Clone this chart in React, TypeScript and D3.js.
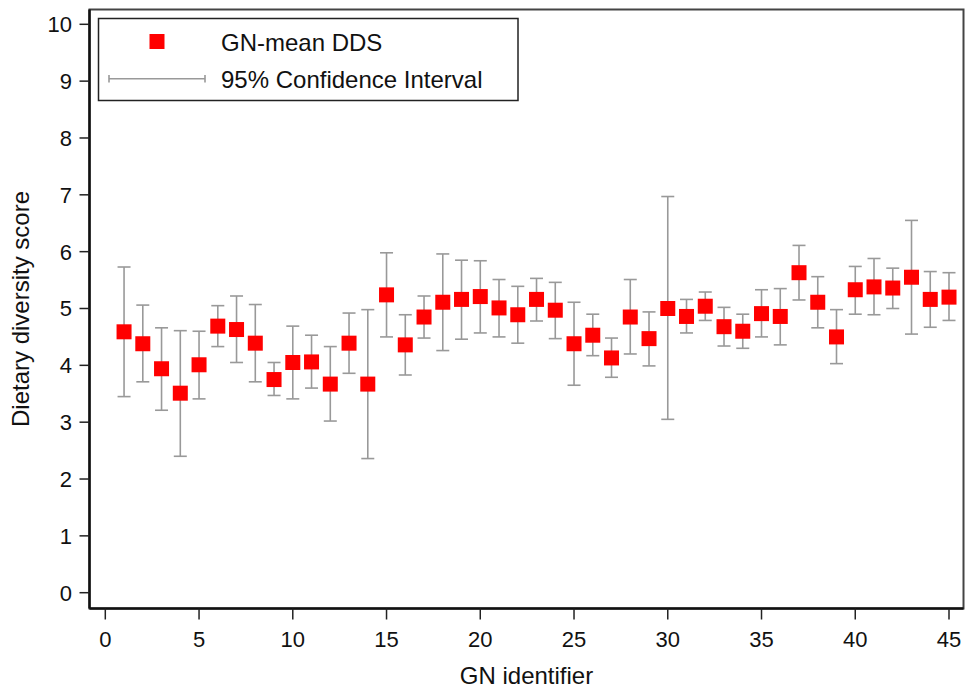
import React from 'react';
import * as d3 from 'd3';

const gnIds = d3.range(1, 46);
const meanDds = [
  4.59, 4.38, 3.94, 3.51, 4.01, 4.69, 4.63, 4.39, 3.75, 4.05,
  4.06, 3.67, 4.39, 3.67, 5.24, 4.36, 4.85, 5.11, 5.16, 5.21,
  5.01, 4.89, 5.16, 4.97, 4.38, 4.53, 4.13, 4.85, 4.47, 5.0,
  4.86, 5.04, 4.68, 4.6, 4.91, 4.86, 5.63, 5.11, 4.5, 5.33,
  5.38, 5.36, 5.55, 5.16, 5.2,
];
const ciLow = [
  3.45, 3.71, 3.21, 2.4, 3.41, 4.33, 4.05, 3.71, 3.47, 3.41,
  3.6, 3.02, 3.86, 2.36, 4.5, 3.83, 4.48, 4.26, 4.46, 4.57,
  4.5, 4.39, 4.78, 4.47, 3.65, 4.17, 3.79, 4.2, 3.99, 3.05,
  4.57, 4.79, 4.34, 4.3, 4.5, 4.36, 5.15, 4.66, 4.03, 4.9,
  4.89, 5.0, 4.55, 4.67, 4.79,
];
const ciHigh = [
  5.73, 5.06, 4.66, 4.61, 4.6, 5.05, 5.22, 5.07, 4.05, 4.69,
  4.53, 4.33, 4.92, 4.98, 5.98, 4.89, 5.22, 5.96, 5.85, 5.84,
  5.51, 5.39, 5.53, 5.46, 5.11, 4.9, 4.48, 5.51, 4.94, 6.97,
  5.16, 5.29, 5.02, 4.9, 5.33, 5.35, 6.11, 5.56, 4.98, 5.74,
  5.88, 5.71, 6.55, 5.65, 5.63,
];
const xTicks = [0, 5, 10, 15, 20, 25, 30, 35, 40, 45];
const yTicks = d3.range(0, 11);

const W = 968;
const H = 694;
const font = 'Liberation Sans, Arial, sans-serif';

export default function App() {
  const x = d3.scaleLinear().domain([0, 45]).range([105.3, 949]);
  const y = d3.scaleLinear().domain([0, 10]).range([592.7, 24.3]);
  const left = 89.5, right = 963.5, top = 9.5, bottom = 608.5;
  const cap = 6.5;
  const ms = 15;
  const barColor = '#999';

  return (
    <svg width={W} height={H} style={{ position: 'absolute', left: 0, top: 0, background: '#fff' }}>
      {/* frame */}
      <rect x={left} y={top} width={right - left} height={bottom - top} fill="#fff" stroke="#444" strokeWidth={2} />
      <line x1={left} x2={left} y1={top} y2={bottom} stroke="#111" strokeWidth={2.5} />
      <line x1={left} x2={right} y1={bottom} y2={bottom} stroke="#111" strokeWidth={2.5} />

      {/* y axis */}
      {yTicks.map((t) => (
        <g key={'y' + t}>
          <line x1={left - 10} x2={left} y1={y(t)} y2={y(t)} stroke="#222" strokeWidth={1.5} />
          <text x={72} y={y(t)} dy="0.36em" textAnchor="end" fontFamily={font} fontSize={22} fill="#111">{t}</text>
        </g>
      ))}
      <text transform={`translate(29,${(top + bottom) / 2}) rotate(-90)`} textAnchor="middle" fontFamily={font} fontSize={24} fill="#111">
        Dietary diversity score
      </text>

      {/* x axis */}
      {xTicks.map((t) => (
        <g key={'x' + t}>
          <line x1={x(t)} x2={x(t)} y1={bottom} y2={bottom + 11} stroke="#222" strokeWidth={1.5} />
          <text x={x(t)} y={647} textAnchor="middle" fontFamily={font} fontSize={22} fill="#111">{t}</text>
        </g>
      ))}
      <text x={(left + right) / 2} y={684} textAnchor="middle" fontFamily={font} fontSize={24} fill="#111">
        GN identifier
      </text>

      {/* error bars */}
      {gnIds.map((id, i) => (
        <g key={'e' + id} stroke={barColor} strokeWidth={1.6}>
          <line x1={x(id)} x2={x(id)} y1={y(ciLow[i])} y2={y(ciHigh[i])} />
          <line x1={x(id) - cap} x2={x(id) + cap} y1={y(ciLow[i])} y2={y(ciLow[i])} />
          <line x1={x(id) - cap} x2={x(id) + cap} y1={y(ciHigh[i])} y2={y(ciHigh[i])} />
        </g>
      ))}

      {/* means */}
      {gnIds.map((id, i) => (
        <rect key={'m' + id} x={x(id) - ms / 2} y={y(meanDds[i]) - ms / 2} width={ms} height={ms} fill="#ff0000" />
      ))}

      {/* legend */}
      <rect x={98.5} y={18.5} width={419.5} height={82} fill="#fff" stroke="#222" strokeWidth={1.5} />
      <rect x={157 - ms / 2} y={41.5 - ms / 2} width={ms} height={ms} fill="#ff0000" />
      <text x={221} y={50.5} fontFamily={font} fontSize={24} fill="#111">GN-mean DDS</text>
      <g stroke={barColor} strokeWidth={1.6}>
        <line x1={109} x2={205} y1={78.7} y2={78.7} />
        <line x1={109} x2={109} y1={75} y2={82.5} />
        <line x1={205} x2={205} y1={75} y2={82.5} />
      </g>
      <text x={221} y={88} fontFamily={font} fontSize={24} fill="#111">95% Confidence Interval</text>
    </svg>
  );
}
